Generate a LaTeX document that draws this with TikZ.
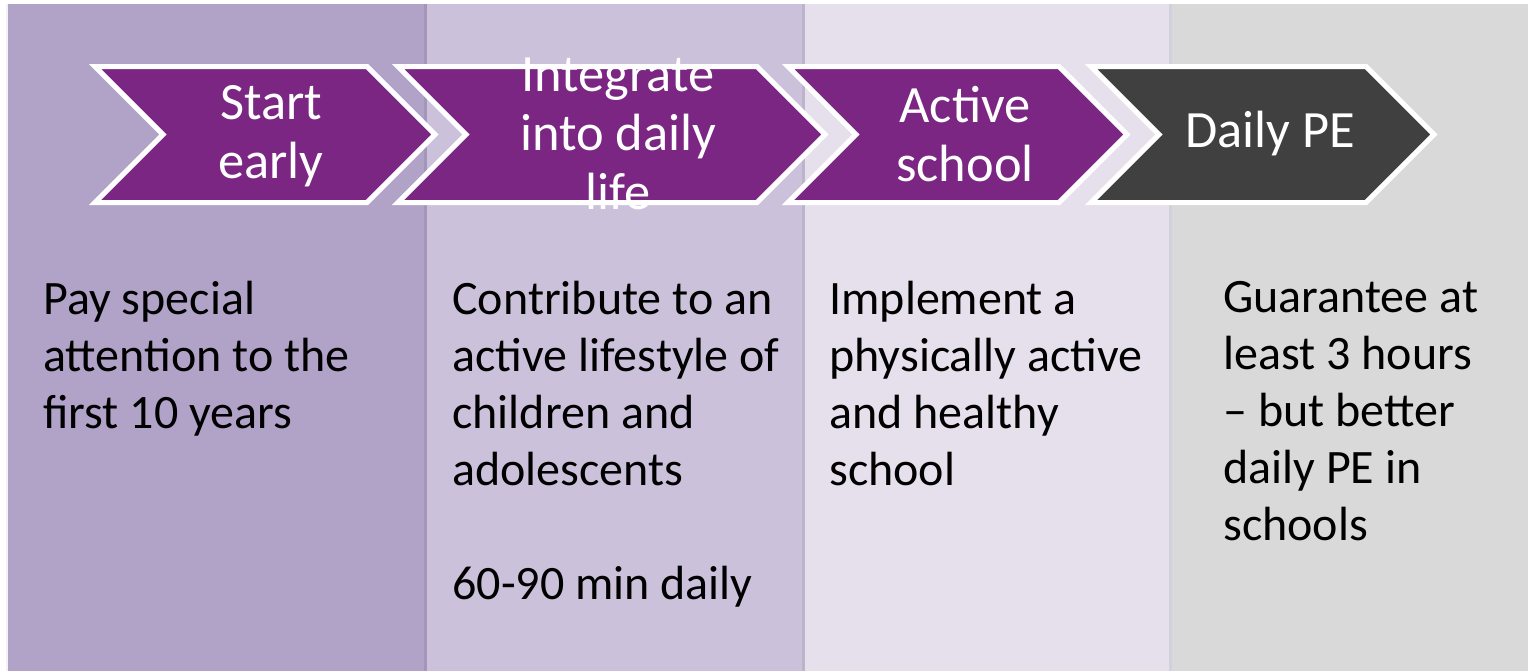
\documentclass[tikz,border=0pt]{standalone}
\usepackage{fontspec}
\setmainfont{Carlito}
\definecolor{colone}{RGB}{177,162,199}
\definecolor{coltwo}{RGB}{204,193,219}
\definecolor{colthree}{RGB}{229,224,236}
\definecolor{colfour}{RGB}{217,217,217}
\definecolor{chevpurple}{RGB}{122,38,130}
\definecolor{chevdark}{RGB}{64,64,64}

\begin{document}
\begin{tikzpicture}[x=0.5pt,y=-0.5pt,
   chevron/.style={draw=white,line width=2.5pt,line join=miter},
   chevtext/.style={text=white,align=center,inner sep=0pt,
                    font=\fontsize{26.2}{29.5}\selectfont},
   bodytext/.style={anchor=north west,inner sep=0pt,align=left,
                    font=\fontsize{24}{28.5}\selectfont}]
  \useasboundingbox (0,0) rectangle (1528,671);
  % column backgrounds
  \fill[colone]   (8,4)    rectangle (427,671);
  \fill[coltwo]   (427,4)  rectangle (805,671);
  \fill[colthree] (805,4)  rectangle (1172,671);
  \fill[colfour]  (1172,4) rectangle (1528,671);
  \foreach \x in {427,805,1172}
    \draw[black,opacity=0.07,line width=1.5pt] (\x-1.5,4) -- (\x-1.5,671);
  \draw[black,opacity=0.05,line width=1pt] (7,4) -- (7,671);
  % chevrons
  \foreach \l/\t/\c in {95/435/chevpurple,398/825/chevpurple,
                        788/1127/chevpurple,1091/1434/chevdark}
    \filldraw[chevron,fill=\c] (\l,66.5) -- (\t-68,66.5) -- (\t,134.5)
      -- (\t-68,202.5) -- (\l,202.5) -- (\l+68,134.5) -- cycle;
  \node[chevtext] (start)     at (271,136)  {Start\\early};
  \node[chevtext] (integrate) at (618,134)  {Integrate\\into daily\\life};
  \node[chevtext] (active)    at (965,134)  {Active\\school};
  \node[chevtext] (dailype)   at (1270,134) {Daily PE};
  % texts under the steps
  \node[bodytext] (attention) at (43,281)
    {Pay special\\attention to the\\first 10 years};
  \node[bodytext] (lifestyle) at (452,281)
    {Contribute to an\\active lifestyle of\\children and\\adolescents\\[28.5pt]60-90 min daily};
  \node[bodytext] (school) at (829,281)
    {Implement a\\physically active\\and healthy\\school};
  \node[bodytext] (hours) at (1223,281)
    {Guarantee at\\least 3 hours\\– but better\\daily PE in\\schools};
\end{tikzpicture}
\end{document}
